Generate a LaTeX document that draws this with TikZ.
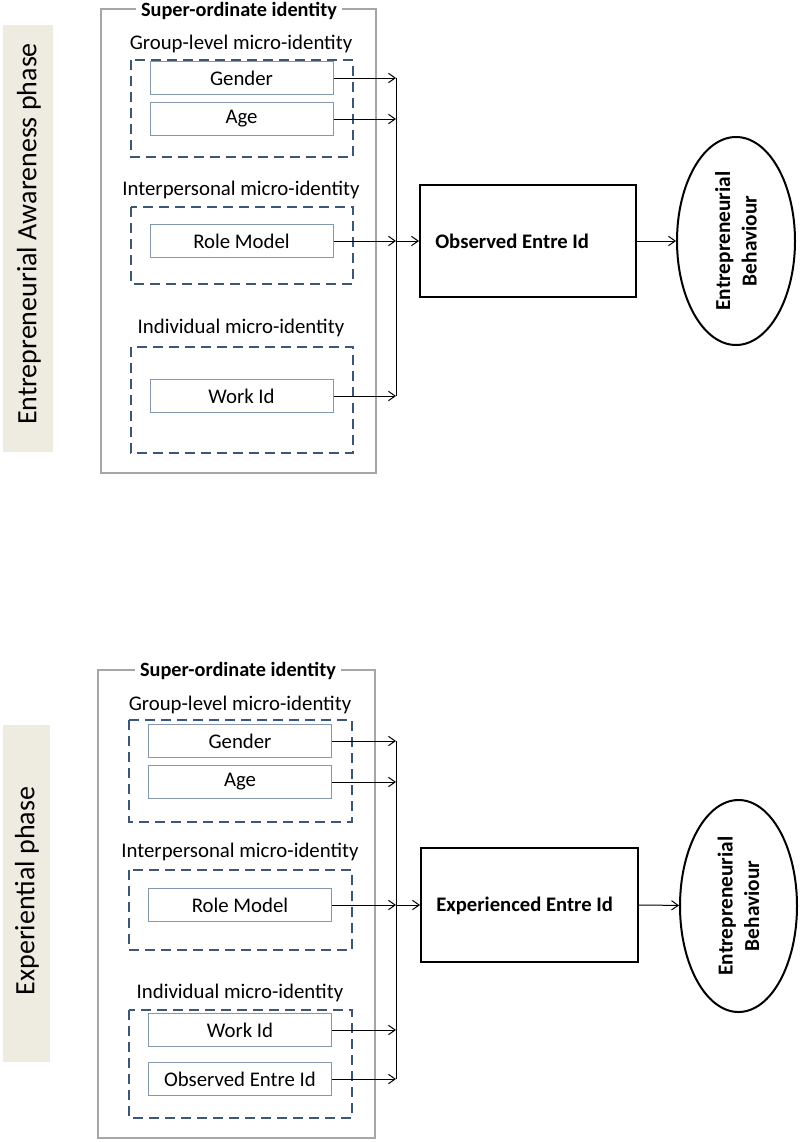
\documentclass[tikz,border=0pt]{standalone}
\usepackage{fontspec}
\setmainfont{Carlito}
\usetikzlibrary{arrows.meta,shapes.geometric}
\definecolor{phasebg}{HTML}{EEECE1}
\definecolor{outerc}{HTML}{A6A6A6}
\definecolor{dashc}{HTML}{3B5679}
\definecolor{boxc}{HTML}{8497B0}
\begin{document}
\begin{tikzpicture}[x=0.75pt,y=-0.75pt,
  phasebox/.style={fill=phasebg,draw=none},
  phasetext/.style={rotate=90,font=\fontsize{21}{25}\selectfont,inner sep=0pt},
  outerbox/.style={draw=outerc,line width=1.5pt},
  outertitle/.style={fill=white,inner xsep=4pt,inner ysep=1pt,font=\bfseries\fontsize{15.2}{18}\selectfont},
  grplabel/.style={inner sep=0pt,font=\fontsize{15.6}{18}\selectfont},
  grpbox/.style={draw=dashc,line width=1.5pt,dash pattern=on 7.5pt off 4.5pt},
  idbox/.style={draw=boxc,line width=0.75pt,fill=white,minimum width=183*0.75pt,minimum height=33*0.75pt,inner sep=0pt,font=\fontsize{15.6}{18}\selectfont},
  mainbox/.style={draw=black,line width=1.5pt,minimum width=216*0.75pt,minimum height=112*0.75pt,inner sep=0pt},
  maintext/.style={inner sep=0pt,anchor=west,font=\bfseries\fontsize{15.5}{18}\selectfont},
  behav/.style={ellipse,draw=black,line width=1.5pt,rotate=90,minimum width=208*0.75pt,minimum height=118*0.75pt,inner sep=0pt,align=center,font=\bfseries\fontsize{16}{20}\selectfont},
  arr/.style={line width=0.75pt,-{Straight Barb[length=5pt,width=7pt]}},
  bus/.style={line width=0.75pt}]
\useasboundingbox (0,0) rectangle (800,1142);

% ===================== TOP: Entrepreneurial Awareness phase
\fill[phasebox] (3,25) rectangle (53,452);
\node[phasetext] (ph1) at (29,234) {Entrepreneurial Awareness phase};

\draw[outerbox] (101,9) rectangle (376,473);
\node[outertitle] (so1) at (239,11) {Super-ordinate identity};

\node[grplabel] (gl1) at (241,44) {Group-level micro-identity};
\draw[grpbox] (131,60) rectangle (353,157);
\node[grplabel] (ip1) at (241,190) {Interpersonal micro-identity};
\draw[grpbox] (131,207) rectangle (353,284);
\node[grplabel] (in1) at (241,328) {Individual micro-identity};
\draw[grpbox] (131,347) rectangle (353,453);

\node[idbox] (gen1) at (241.5,78) {Gender};
\node[idbox] (age1) at (241.5,119) {Age};
\node[idbox] (rm1) at (241.5,241) {Role Model};
\node[idbox] (wk1) at (241.5,396) {Work Id};

\coordinate (bus1) at (396,241);
\node[mainbox] (obs1) at (528,241) {};
\node[maintext] (obst1) at (435,241) {Observed Entre Id};
\node[behav] (eb1) at (736,241) {Entrepreneurial\\Behaviour};

\draw[arr] (gen1.east) -- (gen1.east -| bus1);
\draw[arr] (age1.east) -- (age1.east -| bus1);
\draw[arr] (rm1.east) -- (rm1.east -| bus1);
\draw[arr] (wk1.east) -- (wk1.east -| bus1);
\draw[bus] (gen1.east -| bus1) -- (wk1.east -| bus1);
\draw[arr] (bus1) -- (obs1.west);
\draw[arr] (obs1.east) -- (eb1);

% ===================== BOTTOM: Experiential phase
\fill[phasebox] (3,725) rectangle (50,1062);
\node[phasetext] (ph2) at (27,891) {Experiential phase};

\draw[outerbox] (98,670) rectangle (375,1138);
\node[outertitle] (so2) at (238,671) {Super-ordinate identity};

\node[grplabel] (gl2) at (240,705) {Group-level micro-identity};
\draw[grpbox] (129,720) rectangle (352,822);
\node[grplabel] (ip2) at (240,852) {Interpersonal micro-identity};
\draw[grpbox] (129,870) rectangle (352,950);
\node[grplabel] (in2) at (240,993) {Individual micro-identity};
\draw[grpbox] (129,1010) rectangle (352,1118);

\node[idbox] (gen2) at (240,741) {Gender};
\node[idbox] (age2) at (240,782) {Age};
\node[idbox] (rm2) at (240,905) {Role Model};
\node[idbox] (wk2) at (240,1030) {Work Id};
\node[idbox] (oe2) at (240,1079) {Observed Entre Id};

\coordinate (bus2) at (396,905);
\node[mainbox,minimum width=217*0.75pt,minimum height=114*0.75pt] (exp2) at (529.5,905) {};
\node[maintext] (expt2) at (436,906) {Experienced Entre Id};
\node[behav,minimum width=212*0.75pt,minimum height=117*0.75pt] (eb2) at (738.5,906) {Entrepreneurial\\Behaviour};

\draw[arr] (gen2.east) -- (gen2.east -| bus2);
\draw[arr] (age2.east) -- (age2.east -| bus2);
\draw[arr] (rm2.east) -- (rm2.east -| bus2);
\draw[arr] (wk2.east) -- (wk2.east -| bus2);
\draw[arr] (oe2.east) -- (oe2.east -| bus2);
\draw[bus] (gen2.east -| bus2) -- (oe2.east -| bus2);
\draw[arr] (bus2) -- (exp2.west);
\draw[arr] (exp2.east) -- (eb2);
\end{tikzpicture}
\end{document}
